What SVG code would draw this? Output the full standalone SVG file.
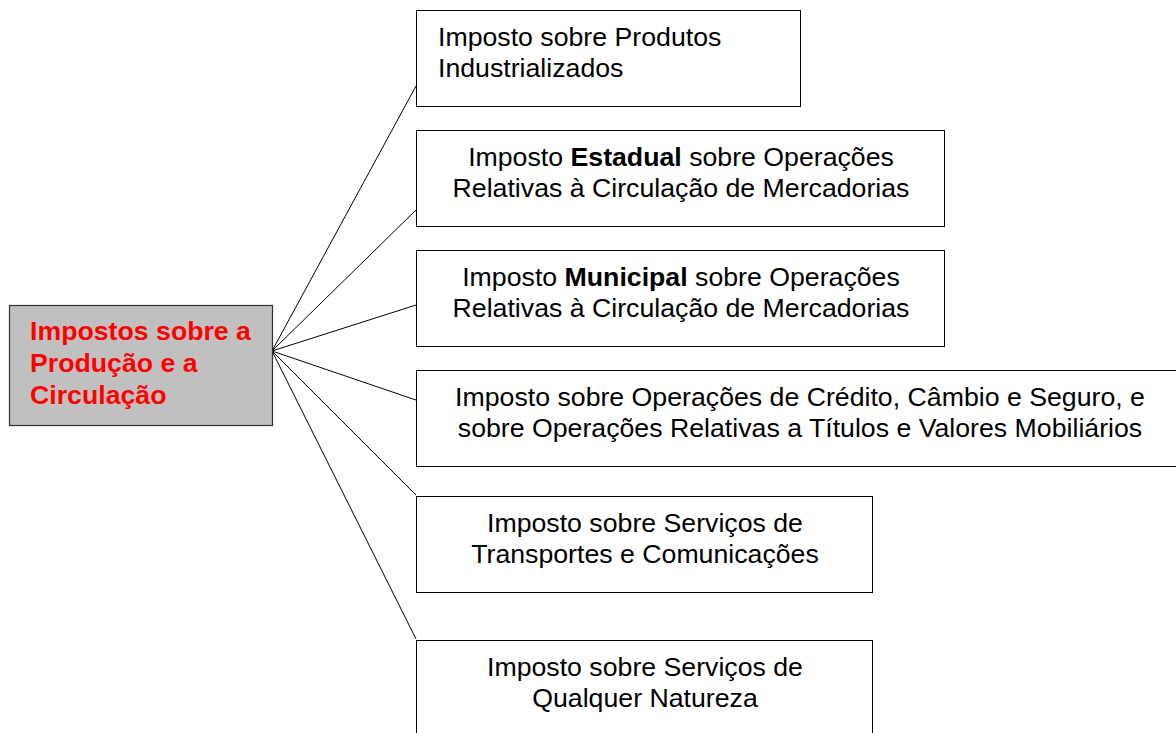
<svg xmlns="http://www.w3.org/2000/svg" width="1176" height="733" viewBox="0 0 1176 733">
<style>
.box{fill:#fff;stroke:#000;stroke-width:1}
.t{font-family:"Liberation Sans",Arial,sans-serif;font-size:26.7px;fill:#000}
.c{text-anchor:middle}
.root{fill:#c0c0c0;stroke:#333;stroke-width:1.2}
.rt{font-family:"Liberation Sans",Arial,sans-serif;font-size:26.7px;font-weight:bold;fill:#ff0000}
.ln{stroke:#000;stroke-width:1;fill:none}
</style>
<rect width="1176" height="733" fill="#fff"/>
<g id="connectors">
<line class="ln" x1="272" y1="351" x2="416" y2="86"/>
<line class="ln" x1="272" y1="351" x2="416" y2="210"/>
<line class="ln" x1="272" y1="351" x2="416" y2="305"/>
<line class="ln" x1="272" y1="351" x2="416" y2="400"/>
<line class="ln" x1="272" y1="351" x2="416" y2="495"/>
<line class="ln" x1="272" y1="351" x2="416" y2="639"/>
</g>
<g id="root">
<rect class="root" x="9.5" y="305.5" width="263" height="120"/>
<text class="rt" x="30" y="340">Impostos sobre a</text>
<text class="rt" x="30" y="372">Produção e a</text>
<text class="rt" x="30" y="404">Circulação</text>
</g>
<g id="n1">
<rect class="box" x="416.5" y="10.5" width="384" height="96"/>
<text class="t" x="438" y="46">Imposto sobre Produtos</text>
<text class="t" x="438" y="77">Industrializados</text>
</g>
<g id="n2">
<rect class="box" x="416.5" y="130.5" width="528" height="96"/>
<text class="t c" x="681" y="166">Imposto <tspan font-weight="bold">Estadual</tspan> sobre Operações</text>
<text class="t c" x="681" y="197">Relativas à Circulação de Mercadorias</text>
</g>
<g id="n3">
<rect class="box" x="416.5" y="250.5" width="528" height="96"/>
<text class="t c" x="681" y="286">Imposto <tspan font-weight="bold">Municipal</tspan> sobre Operações</text>
<text class="t c" x="681" y="317">Relativas à Circulação de Mercadorias</text>
</g>
<g id="n4">
<rect class="box" x="416.5" y="370.5" width="770" height="96"/>
<text class="t c" x="800" y="406">Imposto sobre Operações de Crédito, Câmbio e Seguro, e</text>
<text class="t c" x="800" y="437">sobre Operações Relativas a Títulos e Valores Mobiliários</text>
</g>
<g id="n5">
<rect class="box" x="416.5" y="496.5" width="456" height="96"/>
<text class="t c" x="645" y="532">Imposto sobre Serviços de</text>
<text class="t c" x="645" y="563">Transportes e Comunicações</text>
</g>
<g id="n6">
<rect class="box" x="416.5" y="640.5" width="456" height="100"/>
<text class="t c" x="645" y="676">Imposto sobre Serviços de</text>
<text class="t c" x="645" y="707">Qualquer Natureza</text>
</g>
</svg>
